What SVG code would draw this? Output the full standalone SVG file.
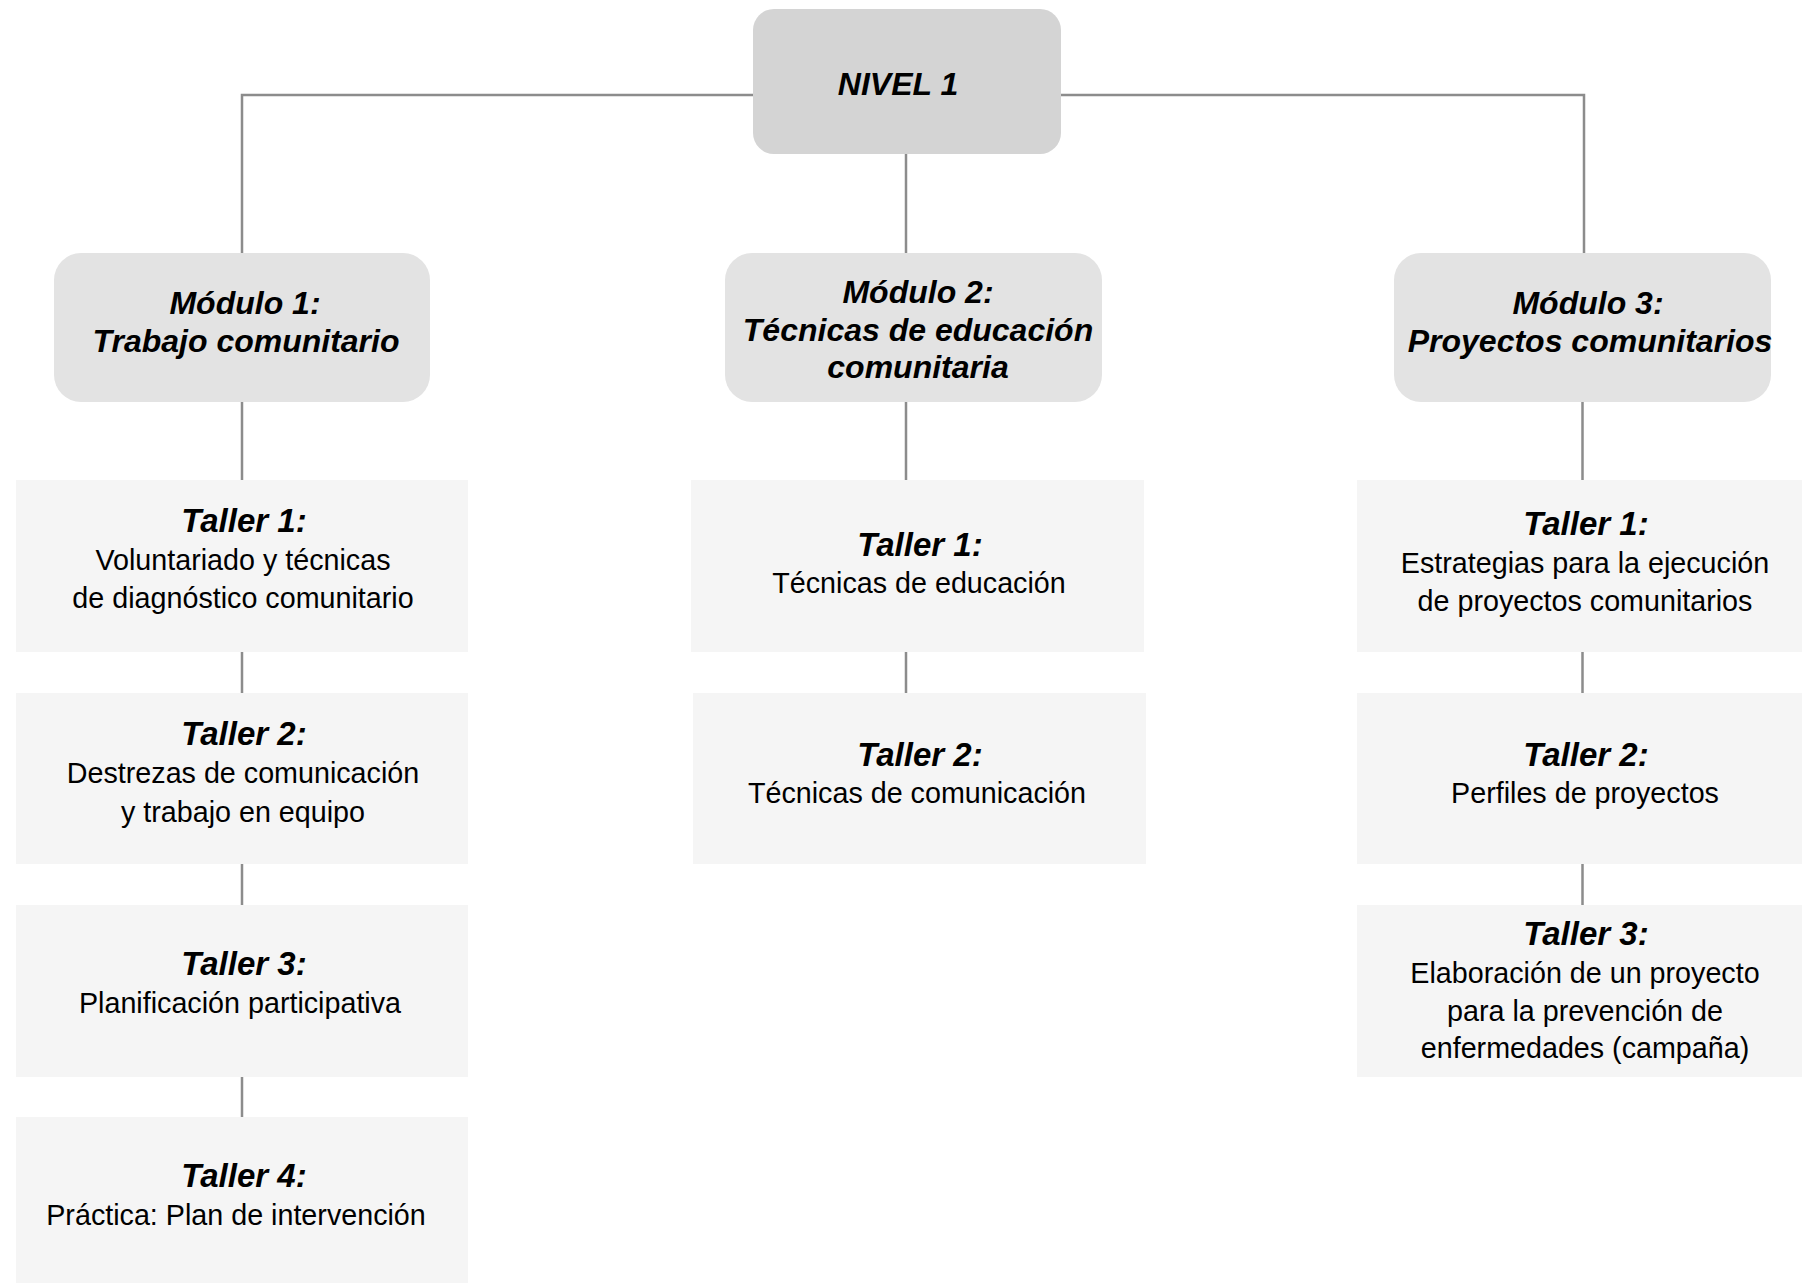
<svg xmlns="http://www.w3.org/2000/svg" width="1802" height="1283" viewBox="0 0 1802 1283">
<style>
.bg{fill:#ffffff}
.lvl{fill:#d4d4d4}
.mod{fill:#e3e3e3}
.tal{fill:#f5f5f5}
.conn{stroke:#8c8c8c;stroke-width:2.5;fill:none}
text{font-family:"Liberation Sans",Arial,sans-serif;fill:#000;text-anchor:middle}
.h{font-weight:bold;font-style:italic;font-size:32px}
.th{font-weight:bold;font-style:italic;font-size:33px}
.t{font-size:28.7px}
</style>
<rect class="bg" x="0" y="0" width="1802" height="1283"/>
<g id="connectors">
<path class="conn" d="M242 253 V95 H753"/>
<path class="conn" d="M1060 95 H1584 V253"/>
<path class="conn" d="M906 154 V253"/>
<path class="conn" d="M242 402 V480 M242 652 V693 M242 864 V905 M242 1077 V1117"/>
<path class="conn" d="M906 402 V480 M906 652 V693"/>
<path class="conn" d="M1582.5 402 V480 M1582.5 652 V693 M1582.5 864 V905"/>
</g>
<g id="nivel1">
<rect class="lvl" x="753" y="9" width="308" height="145" rx="21"/>
<text class="h" x="898" y="95">NIVEL 1</text>
</g>
<g id="modulo1">
<rect class="mod" x="54" y="253" width="376" height="149" rx="27"/>
<text class="h" x="245" y="314">Módulo 1:</text>
<text class="h" x="246" y="351.7">Trabajo comunitario</text>
</g>
<g id="modulo2">
<rect class="mod" x="725" y="253" width="377" height="149" rx="27"/>
<text class="h" x="918" y="302.7">Módulo 2:</text>
<text class="h" x="918" y="340.7">Técnicas de educación</text>
<text class="h" x="918" y="377.7">comunitaria</text>
</g>
<g id="modulo3">
<rect class="mod" x="1394" y="253" width="377" height="149" rx="27"/>
<text class="h" x="1588" y="314">Módulo 3:</text>
<text class="h" x="1590" y="351.7">Proyectos comunitarios</text>
</g>
<g id="m1-taller1">
<rect class="tal" x="16" y="480" width="452" height="172"/>
<text class="th" x="244" y="531.7">Taller 1:</text>
<text class="t" x="243" y="570">Voluntariado y técnicas</text>
<text class="t" x="243" y="608">de diagnóstico comunitario</text>
</g>
<g id="m1-taller2">
<rect class="tal" x="16" y="693" width="452" height="171"/>
<text class="th" x="244" y="745">Taller 2:</text>
<text class="t" x="243" y="783.3">Destrezas de comunicación</text>
<text class="t" x="243" y="821.7">y trabajo en equipo</text>
</g>
<g id="m1-taller3">
<rect class="tal" x="16" y="905" width="452" height="172"/>
<text class="th" x="244" y="975">Taller 3:</text>
<text class="t" x="240" y="1012.7">Planificación participativa</text>
</g>
<g id="m1-taller4">
<rect class="tal" x="16" y="1117" width="452" height="166"/>
<text class="th" x="244" y="1187.3">Taller 4:</text>
<text class="t" x="236" y="1225">Práctica: Plan de intervención</text>
</g>
<g id="m2-taller1">
<rect class="tal" x="691" y="480" width="453" height="172"/>
<text class="th" x="920" y="556">Taller 1:</text>
<text class="t" x="919" y="593.3">Técnicas de educación</text>
</g>
<g id="m2-taller2">
<rect class="tal" x="693" y="693" width="453" height="171"/>
<text class="th" x="920" y="766">Taller 2:</text>
<text class="t" x="917" y="803.3">Técnicas de comunicación</text>
</g>
<g id="m3-taller1">
<rect class="tal" x="1357" y="480" width="445" height="172"/>
<text class="th" x="1586" y="535">Taller 1:</text>
<text class="t" x="1585" y="573.3">Estrategias para la ejecución</text>
<text class="t" x="1585" y="610.7">de proyectos comunitarios</text>
</g>
<g id="m3-taller2">
<rect class="tal" x="1357" y="693" width="445" height="171"/>
<text class="th" x="1586" y="766">Taller 2:</text>
<text class="t" x="1585" y="803.3">Perfiles de proyectos</text>
</g>
<g id="m3-taller3">
<rect class="tal" x="1357" y="905" width="445" height="172"/>
<text class="th" x="1586" y="945">Taller 3:</text>
<text class="t" x="1585" y="983.3">Elaboración de un proyecto</text>
<text class="t" x="1585" y="1020.7">para la prevención de</text>
<text class="t" x="1585" y="1058.3">enfermedades (campaña)</text>
</g>
</svg>
